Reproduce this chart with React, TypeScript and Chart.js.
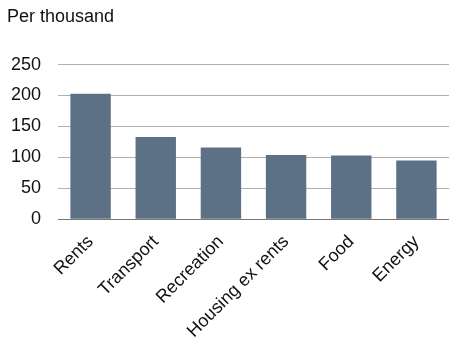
import React, { useEffect, useRef } from "react";
import { Chart, registerables } from "chart.js";

Chart.register(...registerables);

const categories = ["Rents", "Transport", "Recreation", "Housing ex rents", "Food", "Energy"];
const values = [203, 133, 116, 104, 103, 95];
const yTicks = [0, 50, 100, 150, 200, 250];
const titleText = "Per thousand";

export default function App() {
  const ref = useRef<HTMLCanvasElement | null>(null);
  useEffect(() => {
    if (!ref.current) return;
    const font = "Liberation Sans, Arial, sans-serif";
    const chart = new Chart(ref.current, {
      type: "bar",
      data: {
        labels: categories,
        datasets: [
          {
            data: values,
            backgroundColor: "#5d7186",
            barPercentage: 0.62,
            categoryPercentage: 1,
          },
        ],
      },
      options: {
        responsive: false,
        animation: false,
        layout: { padding: { left: 7, right: 0, top: 6, bottom: -6 } },
        plugins: {
          legend: { display: false },
          tooltip: { enabled: false },
          title: {
            display: true,
            text: titleText,
            align: "start",
            color: "#111",
            font: { family: font, size: 18, weight: "normal" },
            padding: { top: 0, bottom: 37 },
          },
        },
        scales: {
          x: {
            grid: { display: false },
            border: { display: false },
            ticks: {
              color: "#111",
              font: { family: font, size: 18 },
              maxRotation: 45,
              minRotation: 45,
              padding: 4,
            },
          },
          y: {
            min: 0,
            max: 250,
            afterBuildTicks: (axis: any) => {
              axis.ticks = yTicks.map((v) => ({ value: v }));
            },
            afterFit: (axis: any) => {
              axis.width = 51;
            },
            border: { display: false },
            grid: {
              drawTicks: false,
              color: (ctx: any) => (ctx.tick && ctx.tick.value === 0 ? "#777" : "#b0b0b0"),
              lineWidth: 1,
            },
            ticks: {
              color: "#111",
              font: { family: font, size: 18 },
              padding: 17,
            },
          },
        },
      },
    });
    return () => chart.destroy();
  }, []);
  return (
    <div style={{ position: "absolute", left: 0, top: 0, width: 449, height: 340 }}>
      <canvas ref={ref} width={449} height={340} style={{ width: 449, height: 340 }} />
    </div>
  );
}
